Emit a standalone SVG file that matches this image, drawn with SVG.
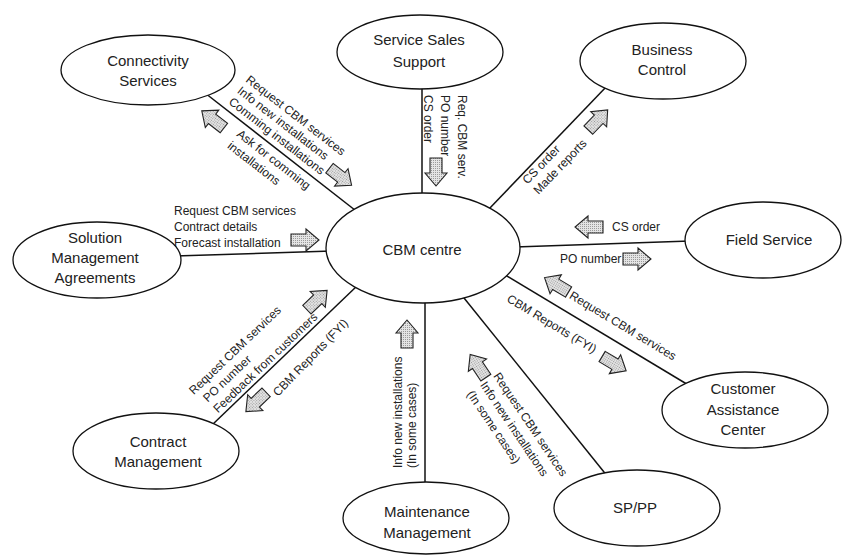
<svg xmlns="http://www.w3.org/2000/svg" xmlns:xlink="http://www.w3.org/1999/xlink" width="843" height="557" viewBox="0 0 843 557">
<style>
.n ellipse{fill:#fff;stroke:#111;stroke-width:1.3}
.nt{font-family:"Liberation Sans",Arial,sans-serif;font-size:15px;fill:#222;text-anchor:middle}
.c line{stroke:#111;stroke-width:1.5}
.lb{font-family:"Liberation Sans",Arial,sans-serif;font-size:12px;fill:#222}
.ar{fill:url(#dots);stroke:#222;stroke-width:1.1}
</style>
<defs>
<pattern id="dots" width="2" height="2" patternUnits="userSpaceOnUse">
<rect width="2" height="2" fill="#e4e4e4"/>
<rect width="1" height="1" fill="#9a9a9a"/>
</pattern>
<path id="ba" d="M-14,-6 H1 V-11 L14,0 L1,11 V6 H-14 Z"/>
</defs>
<rect width="843" height="557" fill="#fff"/>
<g id="connectors" class="c">
<line x1="205" y1="93" x2="360" y2="214"/>
<line x1="422" y1="85" x2="422" y2="197"/>
<line x1="607" y1="86" x2="488" y2="210"/>
<line x1="515" y1="247" x2="690" y2="241"/>
<line x1="502" y1="273" x2="690" y2="386"/>
<line x1="460" y1="293" x2="608" y2="477"/>
<line x1="425" y1="300" x2="425" y2="486"/>
<line x1="212" y1="425" x2="358" y2="285"/>
<line x1="175" y1="256" x2="332" y2="251"/>
</g>
<g id="arrows">
<use href="#ba" class="ar" transform="translate(210,97) rotate(37.8) translate(16,16) rotate(180)"/>
<use href="#ba" class="ar" transform="translate(210,97) rotate(37.8) translate(152,-17)"/>
<use href="#ba" class="ar" transform="translate(436,172) rotate(90)"/>
<use href="#ba" class="ar" transform="translate(598,120) rotate(-46.3)"/>
<use href="#ba" class="ar" transform="translate(589,227) rotate(180)"/>
<use href="#ba" class="ar" transform="translate(637,259)"/>
<use href="#ba" class="ar" transform="translate(507,276) rotate(31) translate(47,-18) rotate(180)"/>
<use href="#ba" class="ar" transform="translate(507,276) rotate(31) translate(137,20)"/>
<use href="#ba" class="ar" transform="translate(478,366) rotate(236)"/>
<use href="#ba" class="ar" transform="translate(407,334) rotate(-90)"/>
<use href="#ba" class="ar" transform="translate(317,300) rotate(-43.7)"/>
<use href="#ba" class="ar" transform="translate(256,402) rotate(136.3)"/>
<use href="#ba" class="ar" transform="translate(305,240)"/>
</g>
<g id="labels" class="lb">
<g transform="translate(210,97) rotate(37.8)">
<text x="18" y="-34">Request CBM services</text>
<text x="18" y="-20">Info new installations</text>
<text x="18" y="-6">Comming installations</text>
<text x="44" y="14.5">Ask for comming</text>
<text x="44" y="29.5">installations</text>
</g>
<g transform="translate(422,95) rotate(90)">
<text x="0" y="-36">Req. CBM serv.</text>
<text x="0" y="-19">PO number</text>
<text x="0" y="-2">CS order</text>
</g>
<g transform="translate(492,206) rotate(-46.3)">
<text x="40" y="11">CS order</text>
<text x="40" y="26">Made reports</text>
</g>
<text x="612" y="231">CS order</text>
<text x="560" y="263">PO number</text>
<g transform="translate(507,276) rotate(31)">
<text x="64" y="-13">Request CBM services</text>
<text x="12" y="22">CBM Reports (FYI)</text>
</g>
<g transform="translate(493,376) rotate(56)">
<text x="0" y="0">Request CBM services</text>
<text x="0" y="16">Info new installations</text>
<text x="0" y="32">(In some cases)</text>
</g>
<g transform="translate(402,468) rotate(-90)">
<text x="0" y="0">Info new installations</text>
<text x="0" y="13.5">(In some cases)</text>
</g>
<g transform="translate(215,422) rotate(-43.7)">
<text x="3" y="-34">Request CBM services</text>
<text x="8" y="-19">PO number</text>
<text x="8" y="-4">Feedback from customers</text>
</g>
<g transform="translate(278,397) rotate(-46)">
<text x="0" y="0">CBM Reports (FYI)</text>
</g>
<text x="174" y="215">Request CBM services</text>
<text x="174" y="231">Contract details</text>
<text x="174" y="247">Forecast installation</text>
</g>
<g id="cbm" class="n"><ellipse cx="423" cy="248" rx="97" ry="55"/><text class="nt" x="422" y="255">CBM centre</text></g>
<g id="connectivity" class="n"><ellipse cx="148" cy="70" rx="87" ry="35"/><text class="nt" x="148" y="66">Connectivity</text><text class="nt" x="148" y="86">Services</text></g>
<g id="servicesales" class="n"><ellipse cx="420" cy="52" rx="83" ry="37"/><text class="nt" x="419" y="45">Service Sales</text><text class="nt" x="419" y="67">Support</text></g>
<g id="business" class="n"><ellipse cx="663" cy="61" rx="83" ry="38"/><text class="nt" x="662" y="55">Business</text><text class="nt" x="662" y="75">Control</text></g>
<g id="field" class="n"><ellipse cx="763" cy="240" rx="78" ry="38"/><text class="nt" x="769" y="245">Field Service</text></g>
<g id="customer" class="n"><ellipse cx="745" cy="410" rx="83" ry="38"/><text class="nt" x="743" y="394">Customer</text><text class="nt" x="743" y="415">Assistance</text><text class="nt" x="743" y="435">Center</text></g>
<g id="sppp" class="n"><ellipse cx="637" cy="508" rx="83" ry="38"/><text class="nt" x="635" y="513">SP/PP</text></g>
<g id="maintenance" class="n"><ellipse cx="426" cy="518" rx="83" ry="36"/><text class="nt" x="427" y="517">Maintenance</text><text class="nt" x="427" y="538">Management</text></g>
<g id="contract" class="n"><ellipse cx="156" cy="451" rx="83" ry="38"/><text class="nt" x="158" y="447">Contract</text><text class="nt" x="158" y="467">Management</text></g>
<g id="solution" class="n"><ellipse cx="97" cy="260" rx="84" ry="38"/><text class="nt" x="95" y="243">Solution</text><text class="nt" x="95" y="263">Management</text><text class="nt" x="95" y="283">Agreements</text></g>
</svg>
